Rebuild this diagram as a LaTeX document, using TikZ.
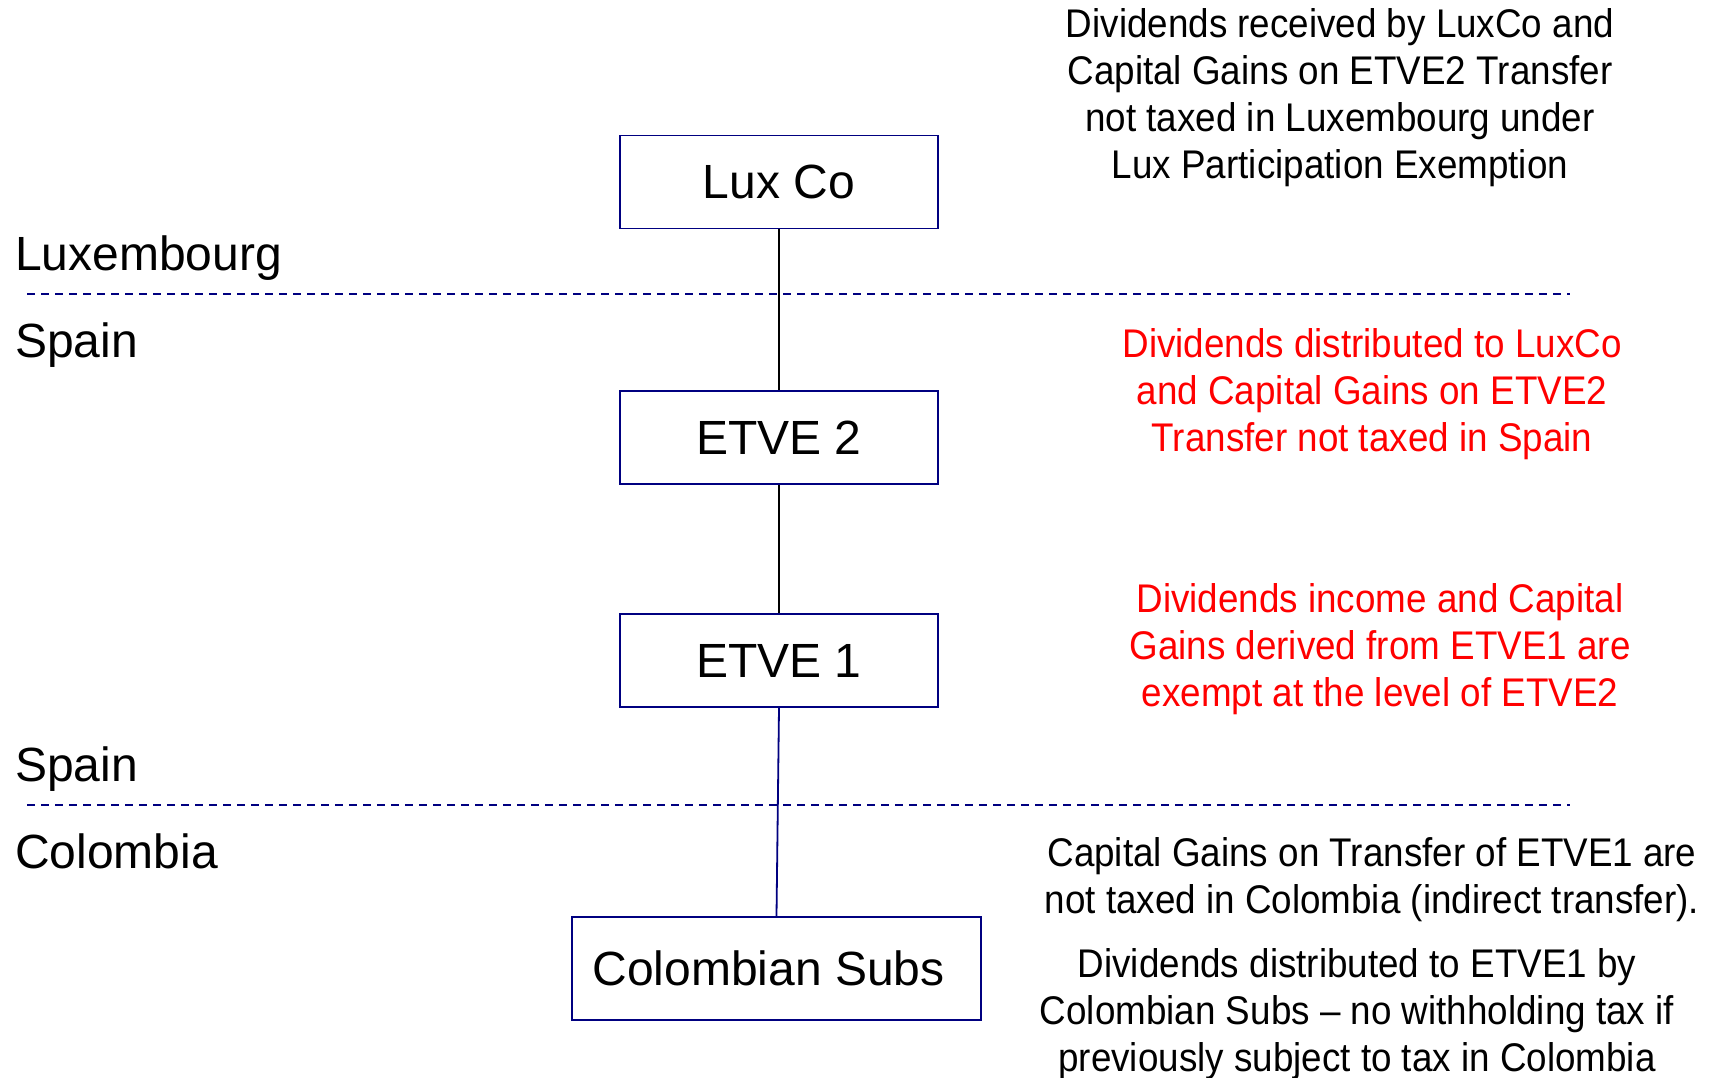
\documentclass[tikz,border=0pt]{standalone}
\usepackage{fontspec}
\setmainfont{Liberation Sans}
\newfontfamily\notefont[FakeStretch=0.92]{Liberation Sans}
\definecolor{boxblue}{RGB}{0,0,128}
\definecolor{notered}{RGB}{255,0,0}
\begin{document}
\begin{tikzpicture}[x=1pt,y=-1pt,
  entity/.style={draw=boxblue, line width=1.8pt, fill=white, inner sep=0pt,
    minimum width=318pt, minimum height=93pt, font=\fontsize{48}{56}\selectfont},
  region/.style={anchor=base west, inner sep=0pt, font=\fontsize{48}{56}\selectfont},
  note/.style={align=center, inner sep=0pt, font=\notefont\fontsize{40}{47}\selectfont},
  border/.style={draw=boxblue, line width=1.5pt, dash pattern=on 8pt off 6pt},
  link/.style={draw=black, line width=1.8pt}]
\useasboundingbox (0,0) rectangle (1722,1077);

% country borders
\coordinate (b1w) at (27,294);
\coordinate (b1e) at (1570,294);
\coordinate (b2w) at (27,805);
\coordinate (b2e) at (1570,805);
\draw[border] (b1w) -- (b1e);
\draw[border] (b2w) -- (b2e);

% region names
\node[region] (lux) at (15,270) {Luxembourg};
\node[region] (es1) at (15,357) {Spain};
\node[region] (es2) at (15,781) {Spain};
\node[region] (col) at (15,868) {Colombia};

% holding chain
\node[entity] (luxco) at (779,182) {Lux Co};
\node[entity] (etve2) at (779,437.5) {ETVE 2};
\node[entity] (etve1) at (779,660.5) {ETVE 1};
\node[entity, minimum width=409pt, minimum height=103pt] (subs) at (776.5,968.5) {Colombian Subs\kern16pt};

\draw[link] (luxco.south) -- (etve2.north);
\draw[link] (etve2.south) -- (etve1.north);
\draw[link, draw=boxblue] (etve1.south) -- (subs.north);

% tax notes
\node[note] (n1) at (1340,98) {Dividends received by LuxCo and\\Capital Gains on ETVE2 Transfer\\not taxed in Luxembourg under\\Lux Participation Exemption};
\node[note, text=notered] (n2) at (1372,394) {Dividends distributed to LuxCo\\and Capital Gains on ETVE2\\Transfer not taxed in Spain};
\node[note, text=notered] (n3) at (1380,649) {Dividends income and Capital\\Gains derived from ETVE1 are\\exempt at the level of ETVE2};
\node[note] (n4) at (1372,880) {Capital Gains on Transfer of ETVE1 are\\not taxed in Colombia (indirect transfer).};
\node[note] (n5) at (1357,1014) {Dividends distributed to ETVE1 by\\Colombian Subs – no withholding tax if\\previously subject to tax in Colombia};
\end{tikzpicture}
\end{document}
